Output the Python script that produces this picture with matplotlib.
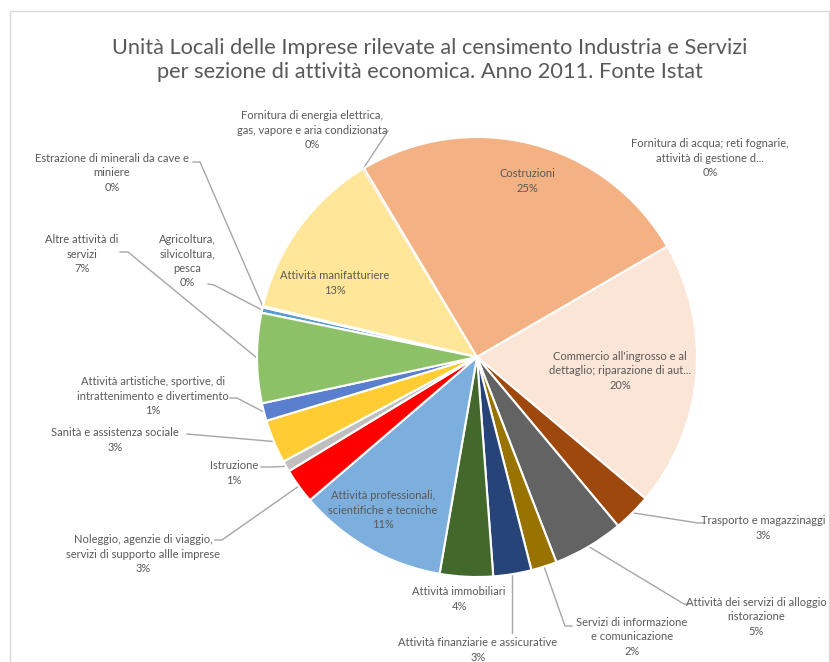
import numpy as np
import matplotlib.pyplot as plt
from matplotlib.patches import Rectangle

plt.rcParams['font.family'] = ['Lato', 'DejaVu Sans']

# sezioni ATECO, in ordine
sezioni = [
    'Agricoltura,\nsilvicoltura,\npesca',
    'Estrazione di minerali da cave e\nminiere',
    'Attività manifatturiere',
    'Fornitura di energia elettrica,\ngas, vapore e aria condizionata',
    'Fornitura di acqua; reti fognarie,\nattività di gestione d...',
    'Costruzioni',
    "Commercio all'ingrosso e al\ndettaglio; riparazione di aut...",
    'Trasporto e magazzinaggi',
    'Attività dei servizi di alloggio\nristorazione',
    'Servizi di informazione\ne comunicazione',
    'Attività finanziarie e assicurative',
    'Attività immobiliari',
    'Attività professionali,\nscientifiche e tecniche',
    'Noleggio, agenzie di viaggio,\nservizi di supporto allle imprese',
    'Istruzione',
    'Sanità e assistenza sociale',
    'Attività artistiche, sportive, di\nintrattenimento e divertimento',
    'Altre attività di\nservizi',
]
# quota percentuale delle unità locali
quote = [0.4, 0.1, 12.6, 0.05, 0.05, 25.2, 19.5, 2.8, 5.2, 1.9,
         2.8, 3.9, 11.0, 2.6, 0.8, 3.2, 1.3, 6.6]
colori = ['#5B9BD5', '#A5A5A5', '#FFE699', '#F4B183', '#F4B183', '#F4B183',
          '#FBE5D6', '#9E480E', '#636363', '#997300', '#264478', '#43682B',
          '#7CAFDD', '#FF0000', '#BFBFBF', '#FFCD33', '#5B7FCF', '#8CC168']

W, H = 830, 662
grigio = '#595959'

fig = plt.figure(figsize=(W / 100, H / 100), dpi=100)
ax = fig.add_axes([0, 0, 1, 1])
ax.set_xlim(0, W)
ax.set_ylim(0, H)
ax.set_aspect('equal')
ax.axis('off')


def py(y):
    # coordinate dall'alto verso il basso
    return H - y


cx, cy, r = 477, py(357), 220
wedges, _ = ax.pie(quote, colors=colori, startangle=90 - 281.6, counterclock=False,
                   center=(cx, cy), radius=r,
                   wedgeprops=dict(edgecolor='white', linewidth=1.5))
# le fette quasi nulle non hanno bordo proprio
for i in (3, 4):
    wedges[i].set_linewidth(0)
ax.set_xlim(0, W)
ax.set_ylim(0, H)

# etichette interne
interne = {2: (335, 283), 5: (527, 181), 6: (620, 371), 12: (383, 510)}
# etichette esterne: posizione del testo e percorso della linea guida
esterne = {
    0: ((187, 261), [(208, 284), (214, 285)]),
    1: ((112, 173), [(193, 162), (200, 162)]),
    3: ((312, 130), [(388, 131)]),
    4: ((710, 158), None),
    7: ((763, 528), [(705, 523), (698, 523)]),
    8: ((756, 617), [(690, 604), (684, 604)]),
    9: ((632, 637), [(572, 626), (565, 626)]),
    10: ((478, 650), 'v'),
    11: ((459, 599), None),
    13: ((143, 554), [(215, 540), (222, 540)]),
    14: ((234, 473), [(261, 467), (270, 467)]),
    15: ((115, 440), [(187, 434)]),
    16: ((153, 396), [(230, 398), (237, 398)]),
    17: ((82, 254), [(120, 252), (128, 252)]),
}

tot = sum(quote)
fs = 8.0
for i, w in enumerate(wedges):
    testo = f'{sezioni[i]}\n{round(quote[i] / tot * 100):.0f}%'
    if i in interne:
        x, y = interne[i]
        ax.text(x, py(y), testo, ha='center', va='center', fontsize=fs,
                color=grigio, linespacing=1.35)
        continue
    (x, y), guida = esterne[i]
    ax.text(x, py(y), testo, ha='center', va='center', fontsize=fs,
            color=grigio, linespacing=1.35)
    if guida is None:
        continue
    a = np.deg2rad((w.theta1 + w.theta2) / 2)
    ex, ey = cx + r * np.cos(a), cy + r * np.sin(a)
    if guida == 'v':
        xs, ys = [ex, ex], [py(633), ey]
    else:
        xs = [p[0] for p in guida] + [ex]
        ys = [py(p[1]) for p in guida] + [ey]
    ax.plot(xs, ys, color='#A6A6A6', linewidth=1, zorder=0.5)

ax.text(430, py(60), 'Unità Locali delle Imprese rilevate al censimento Industria e Servizi\n'
        'per sezione di attività economica. Anno 2011. Fonte Istat',
        ha='center', va='center', fontsize=15.7, color=grigio, linespacing=1.25)

ax.add_patch(Rectangle((10, -5), 819, py(11) + 5, fill=False,
                       edgecolor='#D9D9D9', linewidth=1))

fig.savefig('out.png', dpi=100)
